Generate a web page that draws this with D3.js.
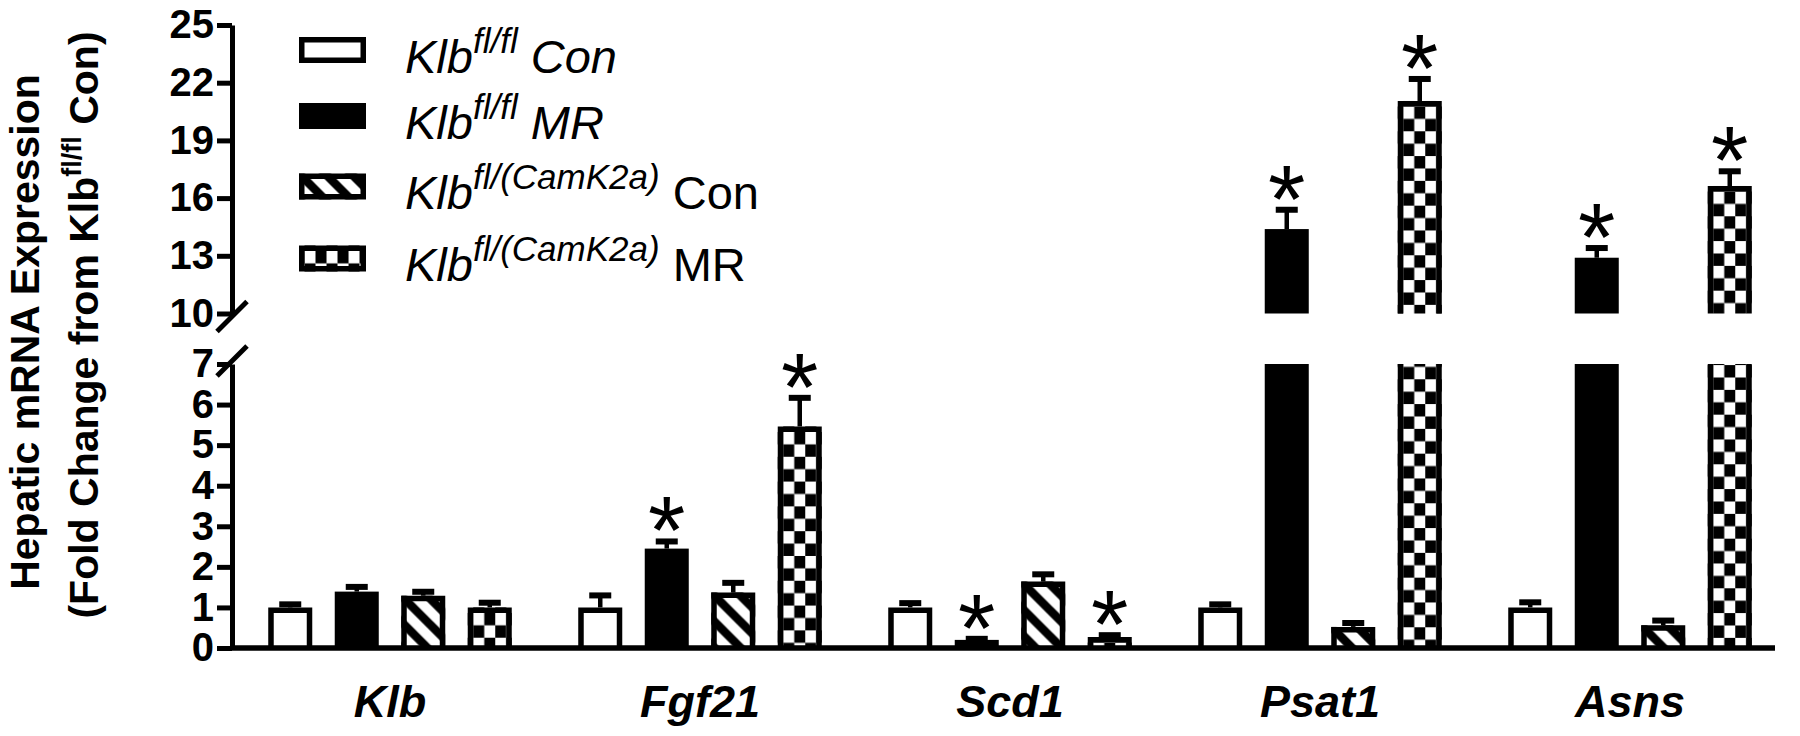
<!DOCTYPE html>
<html>
<head>
<meta charset="utf-8">
<script src="https://cdn.jsdelivr.net/npm/d3@7"></script>
<style>
  html, body { margin: 0; padding: 0; background: #fff; }
  svg { display: block; font-family: "Liberation Sans", Arial, sans-serif; }
</style>
</head>
<body>
<script>
// ---------------- data ----------------
const genes = ["Klb", "Fgf21", "Scd1", "Psat1", "Asns"];
const seriesKeys = ["conFl", "mrFl", "conCam", "mrCam"];
const seriesStyles = ["open", "solid", "hatch", "check"];

const meanConFl = [1.0, 1.0, 1.0, 1.0, 1.0];
const errConFl  = [0.15, 0.37, 0.18, 0.15, 0.20];
const meanMrFl  = [1.39, 2.45, 0.20, 14.39, 12.90];
const errMrFl   = [0.19, 0.25, 0.10, 1.16, 0.66];
const meanConCam = [1.29, 1.37, 1.64, 0.52, 0.56];
const errConCam  = [0.17, 0.31, 0.25, 0.17, 0.19];
const meanMrCam = [1.00, 5.46, 0.27, 21.05, 16.63];
const errMrCam  = [0.19, 0.78, 0.12, 1.30, 0.92];

const sigConFl  = [false, false, false, false, false];
const sigMrFl   = [false, true, true, true, true];
const sigConCam = [false, false, false, false, false];
const sigMrCam  = [false, true, true, true, true];

const lowTicks = [0, 1, 2, 3, 4, 5, 6, 7];
const highTicks = [10, 13, 16, 19, 22, 25];

const means = [meanConFl, meanMrFl, meanConCam, meanMrCam];
const errs = [errConFl, errMrFl, errConCam, errMrCam];
const sigs = [sigConFl, sigMrFl, sigConCam, sigMrCam];

// ---------------- setup ----------------
const W = 1800, H = 736;
const svg = d3.select("body").append("svg").attr("width", W).attr("height", H);
const defs = svg.append("defs");

const x0 = d3.scaleBand().domain(genes).range([235, 1785]);
const x1 = d3.scaleBand().domain(seriesKeys).range([22, 288]).paddingInner(0.338).paddingOuter(0.169);
const yLow = d3.scaleLinear().domain([0, 7]).range([648, 364]);
const yHigh = d3.scaleLinear().domain([10, 25]).range([313.5, 25]);
const yv = v => v <= 7 ? yLow(v) : yHigh(v);

const SW = 5.5;      // bar outline width
const AXW = 5;       // axis line width
const HP = 26;       // hatch period
const CW = (x1.bandwidth() - 2 * SW) / 3; // checker cell width
const CH = 12.4;     // checker cell height

function makePattern(id, style, px, py) {
  if (style === "hatch") {
    const p = defs.append("pattern").attr("id", id).attr("patternUnits", "userSpaceOnUse")
      .attr("x", px).attr("y", py).attr("width", HP).attr("height", HP);
    p.append("rect").attr("width", HP).attr("height", HP).attr("fill", "#fff");
    p.append("path")
      .attr("d", `M${-HP/2},${-HP/2}L${HP*1.5},${HP*1.5}M${-HP},0L0,${HP}M0,${-HP}L${HP},0M${-HP/2},${HP/2}L${HP/2},${HP*1.5}M${HP/2},${-HP/2}L${HP*1.5},${HP/2}`)
      .attr("stroke", "#000").attr("stroke-width", 8.5);
  } else if (style === "check") {
    const p = defs.append("pattern").attr("id", id).attr("patternUnits", "userSpaceOnUse")
      .attr("x", px).attr("y", py).attr("width", 2 * CW).attr("height", 2 * CH);
    p.append("rect").attr("width", 2 * CW).attr("height", 2 * CH).attr("fill", "#fff");
    p.append("rect").attr("x", CW).attr("y", 0).attr("width", CW).attr("height", CH).attr("fill", "#000");
    p.append("rect").attr("x", 0).attr("y", CH).attr("width", CW).attr("height", CH).attr("fill", "#000");
  }
}

function fillFor(style, id) {
  if (style === "solid") return "#000";
  if (style === "open") return "#fff";
  return `url(#${id})`;
}

// ---------------- bars ----------------
const rows = [];
genes.forEach((g, gi) => {
  seriesKeys.forEach((k, si) => {
    rows.push({ gene: g, key: k, style: seriesStyles[si], mean: means[si][gi], err: errs[si][gi], sig: sigs[si][gi] });
  });
});

const barsG = svg.append("g");
rows.forEach((d, i) => {
  const bx = x0(d.gene) + x1(d.key);
  const bw = x1.bandwidth();
  const cx = bx + bw / 2;
  const segs = d.mean <= 7
    ? [{ top: yLow(d.mean), bottom: yLow(0), topBorder: true }]
    : [{ top: yLow(7), bottom: yLow(0), topBorder: false }, { top: yHigh(d.mean), bottom: yHigh(10), topBorder: true }];
  const pid = `pat${i}`;
  const barTop = yv(d.mean);
  if (d.style === "hatch") makePattern(pid, "hatch", bx, barTop);
  if (d.style === "check") makePattern(pid, "check", bx + SW, barTop + SW);
  segs.forEach(s => {
    barsG.append("rect").attr("x", bx).attr("y", s.top).attr("width", bw).attr("height", s.bottom - s.top)
      .attr("fill", fillFor(d.style, pid));
    if (d.style !== "solid") {
      const l = bx + SW / 2, r = bx + bw - SW / 2;
      const path = s.topBorder
        ? `M${l},${s.bottom}L${l},${s.top + SW/2}L${r},${s.top + SW/2}L${r},${s.bottom}`
        : `M${l},${s.bottom}L${l},${s.top}M${r},${s.top}L${r},${s.bottom}`;
      barsG.append("path").attr("d", path).attr("fill", "none").attr("stroke", "#000").attr("stroke-width", SW);
    }
  });
  // error bar
  const yTop = yv(d.mean + d.err);
  barsG.append("line").attr("x1", cx).attr("x2", cx).attr("y1", barTop).attr("y2", yTop + 3)
    .attr("stroke", "#000").attr("stroke-width", 4.5);
  barsG.append("rect").attr("x", cx - 11).attr("y", yTop).attr("width", 22).attr("height", 6).attr("fill", "#000");
  if (d.sig) {
    barsG.append("text").attr("x", cx).attr("y", yTop - 30 + 55)
      .attr("text-anchor", "middle").attr("font-size", 96).attr("fill", "#000").text("*");
  }
});

// ---------------- axes ----------------
const axX = 232;
const fmt = d3.format("d");
const lowAxis = svg.append("g").attr("transform", `translate(${axX},0)`)
  .call(d3.axisLeft(yLow).tickValues(lowTicks).tickFormat(fmt).tickSize(15).tickSizeOuter(0).tickPadding(3));
const highAxis = svg.append("g").attr("transform", `translate(${axX},0)`)
  .call(d3.axisLeft(yHigh).tickValues(highTicks).tickFormat(fmt).tickSize(15).tickSizeOuter(0).tickPadding(3));
[lowAxis, highAxis].forEach(a => {
  a.selectAll("path,line").attr("stroke", "#000").attr("stroke-width", AXW);
  a.selectAll("text").attr("font-size", 40).attr("font-weight", "bold").attr("fill", "#000")
    .attr("font-family", "'Liberation Sans', Arial, sans-serif");
});
// baseline
svg.append("line").attr("x1", axX - 2).attr("x2", 1775).attr("y1", yLow(0)).attr("y2", yLow(0))
  .attr("stroke", "#000").attr("stroke-width", 5.5);
// break marks
[[yHigh(10) + 3], [yLow(7) - 3]].forEach(([cy]) => {
  svg.append("line").attr("x1", axX - 15).attr("y1", cy + 15).attr("x2", axX + 15).attr("y2", cy - 15)
    .attr("stroke", "#000").attr("stroke-width", AXW);
});

// x labels
svg.append("g").selectAll("text").data(genes).join("text")
  .attr("x", g => x0(g) + x0.bandwidth() / 2).attr("y", 717)
  .attr("text-anchor", "middle").attr("font-size", 45).attr("font-weight", "bold").attr("font-style", "italic")
  .text(g => g);

// y title
const title = svg.append("g").attr("transform", "rotate(-90)");
title.append("text").attr("x", -332).attr("y", 39).attr("text-anchor", "middle")
  .attr("font-size", 41).attr("font-weight", "bold").text("Hepatic mRNA Expression");
const t2 = title.append("text").attr("x", -325).attr("y", 98).attr("text-anchor", "middle")
  .attr("font-size", 41).attr("font-weight", "bold");
t2.append("tspan").text("(Fold Change from Klb");
t2.append("tspan").attr("font-size", 27).attr("dy", -17).text("fl/fl");
t2.append("tspan").attr("dy", 17).text(" Con)");

// ---------------- legend ----------------
const legendRows = [
  { style: "open", sup: "fl/fl", tail: " Con", tailItalic: true, cy: 50, base: 73 },
  { style: "solid", sup: "fl/fl", tail: " MR", tailItalic: true, cy: 116, base: 139 },
  { style: "hatch", sup: "fl/(CamK2a)", tail: " Con", tailItalic: false, cy: 186.5, base: 209 },
  { style: "check", sup: "fl/(CamK2a)", tail: " MR", tailItalic: false, cy: 258.5, base: 281 }
];
const lg = svg.append("g");
legendRows.forEach((r, i) => {
  const lx = 299, lw = 67, lh = 26, ly = r.cy - lh / 2;
  const pid = `lpat${i}`;
  if (r.style === "hatch") makePattern(pid, "hatch", lx, ly);
  if (r.style === "check") makePattern(pid, "check", lx + SW, ly + SW);
  lg.append("rect").attr("x", lx).attr("y", ly).attr("width", lw).attr("height", lh).attr("fill", fillFor(r.style, pid));
  if (r.style !== "solid") {
    lg.append("rect").attr("x", lx + SW / 2).attr("y", ly + SW / 2).attr("width", lw - SW).attr("height", lh - SW)
      .attr("fill", "none").attr("stroke", "#000").attr("stroke-width", SW);
  }
  const t = lg.append("text").attr("x", 405).attr("y", r.base).attr("font-size", 47);
  t.append("tspan").attr("font-style", "italic").text("Klb");
  t.append("tspan").attr("font-style", "italic").attr("font-size", 35).attr("dy", -20).text(r.sup);
  t.append("tspan").attr("dy", 20).attr("font-style", r.tailItalic ? "italic" : "normal").text(r.tail);
});
</script>
</body>
</html>
